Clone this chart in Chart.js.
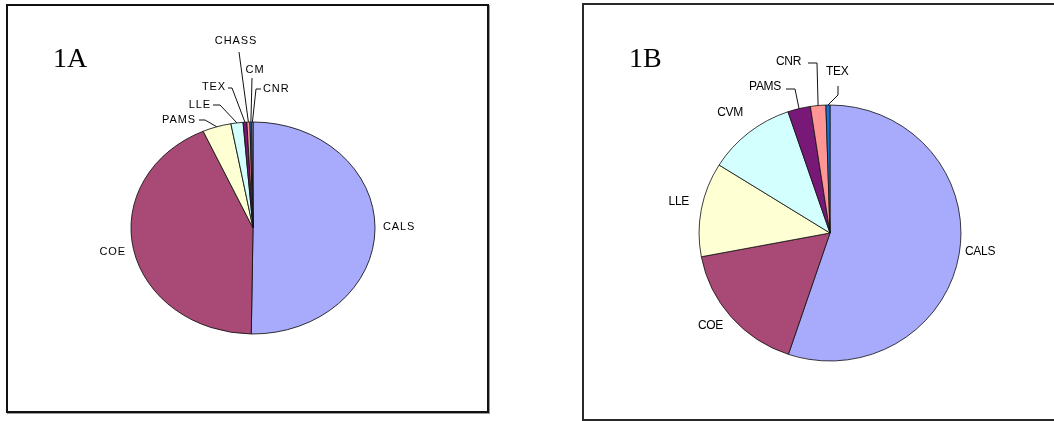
<!DOCTYPE html>
<html>
<head>
<meta charset="utf-8">
<script src="https://cdn.jsdelivr.net/npm/chart.js@4.4.0/dist/chart.umd.min.js"></script>
<style>
  html, body { margin: 0; padding: 0; background: #fff; }
  body { width: 1054px; height: 421px; position: relative; overflow: hidden; }
  .panel { position: absolute; box-sizing: border-box; border: 2px solid #111; }
  #boxA { left: 6px; top: 4px; width: 483px; height: 409px; box-shadow: 1px 1px 0 #999; }
  #boxB { left: 582px; top: 3px; width: 480px; height: 418px; border-color: #2a2a2a; }
  canvas { position: absolute; top: 0; }
  #chartA { left: 0; }
  #chartB { left: 527px; }
</style>
</head>
<body>
<div class="panel" id="boxA"></div>
<div class="panel" id="boxB"></div>
<canvas id="chartA" width="527" height="421"></canvas>
<canvas id="chartB" width="527" height="421"></canvas>
<script>
// Figure 1A
const categoriesA = ['CALS', 'COE', 'PAMS', 'LLE', 'TEX', 'CHASS', 'CM', 'CNR'];
const valuesA = [50.25, 43.1, 3.8, 1.6, 0.5, 0.4, 0.25, 0.15];

// Figure 1B
const categoriesB = ['CALS', 'COE', 'LLE', 'CVM', 'PAMS', 'CNR', 'TEX'];
const valuesB = [55.2, 16.9, 11.9, 10.9, 2.8, 1.9, 0.5];

// Excel-ish default series colours, in slice order
const sliceColors = ['#a8aafc', '#a94a76', '#ffffd4', '#d4ffff', '#781978', '#ff9595', '#1672d2', '#d0d0ff'];

// label placement relative to the pie centre (layout only)
const labelLayoutA = [
  { dx: 130, dy: -1, align: 'left' },
  { dx: -127, dy: 24, align: 'right' },
  { dx: -57, dy: -108, align: 'right', leader: [[-54, -108], [-48, -108]] },
  { dx: -42, dy: -123, align: 'right', leader: [[-40, -123], [-33, -123]] },
  { dx: -27, dy: -141, align: 'right', leader: [[-25, -140], [-21, -140]] },
  { dx: -17, dy: -187, align: 'center', leader: [[-14, -176]] },
  { dx: 2, dy: -158, align: 'center', leader: [[-1, -150]] },
  { dx: 10, dy: -139, align: 'left', leader: [[8, -139], [3, -139]] }
];

const labelLayoutB = [
  { dx: 135, dy: 19, align: 'left' },
  { dx: -107, dy: 93, align: 'right' },
  { dx: -141, dy: -31, align: 'right' },
  { dx: -87, dy: -120, align: 'right' },
  { dx: -49, dy: -146, align: 'right', leader: [[-44, -144], [-35, -144]] },
  { dx: -29, dy: -171, align: 'right', leader: [[-22, -170], [-13, -170]] },
  { dx: -4, dy: -161, align: 'left', leader: [[8, -147], [8, -138]] }
];

// squash the pie into the ellipse seen in the original
const stretchPlugin = {
  id: 'stretch',
  beforeDatasetsDraw(chart, args, opts) {
    const arc = chart.getDatasetMeta(0).data[0];
    const ctx = chart.ctx;
    ctx.save();
    ctx.translate(arc.x, arc.y);
    ctx.scale(opts.sx, 1);
    ctx.translate(-arc.x, -arc.y);
  },
  afterDatasetsDraw(chart) {
    chart.ctx.restore();
  }
};

const pieLabelsPlugin = {
  id: 'pieLabels',
  afterDraw(chart, args, opts) {
    const ctx = chart.ctx;
    const meta = chart.getDatasetMeta(0);
    const labels = chart.data.labels;
    const sx = chart.options.plugins.stretch.sx;
    ctx.save();
    ctx.font = opts.font;
    ctx.letterSpacing = opts.spacing;
    ctx.fillStyle = '#000';
    ctx.strokeStyle = '#111';
    ctx.lineWidth = 1;
    ctx.textBaseline = 'middle';
    meta.data.forEach((arc, i) => {
      const p = opts.layout[i];
      const { x, y, startAngle, endAngle, outerRadius } =
        arc.getProps(['x', 'y', 'startAngle', 'endAngle', 'outerRadius'], true);
      ctx.textAlign = p.align;
      ctx.fillText(labels[i], x + p.dx, y + p.dy);
      if (p.leader) {
        const mid = (startAngle + endAngle) / 2;
        ctx.beginPath();
        p.leader.forEach(([lx, ly], k) => {
          if (k) ctx.lineTo(x + lx, y + ly);
          else ctx.moveTo(x + lx, y + ly);
        });
        ctx.lineTo(x + sx * outerRadius * Math.cos(mid), y + outerRadius * Math.sin(mid));
        ctx.stroke();
      }
    });
    ctx.letterSpacing = '0px';
    ctx.font = '28px "Liberation Serif", "Times New Roman", serif';
    ctx.textAlign = 'left';
    ctx.textBaseline = 'alphabetic';
    ctx.fillText(opts.tag, opts.tagX, opts.tagY);
    ctx.restore();
  }
};

function makePie(id, categories, values, cfg) {
  return new Chart(document.getElementById(id), {
    type: 'pie',
    data: {
      labels: categories,
      datasets: [{
        data: values,
        backgroundColor: sliceColors.slice(0, values.length),
        borderColor: '#111',
        borderWidth: 0.8
      }]
    },
    options: {
      responsive: false,
      animation: false,
      events: [],
      radius: cfg.radius,
      layout: { padding: cfg.padding },
      plugins: {
        legend: { display: false },
        tooltip: { enabled: false },
        stretch: { sx: cfg.sx },
        pieLabels: {
          layout: cfg.labels,
          font: cfg.font,
          spacing: cfg.spacing,
          tag: cfg.tag,
          tagX: cfg.tagX,
          tagY: cfg.tagY
        }
      }
    },
    plugins: [stretchPlugin, pieLabelsPlugin]
  });
}

makePie('chartA', categoriesA, valuesA, {
  radius: 106,
  sx: 1.151,
  padding: { top: 122, bottom: 87, left: 103, right: 124 },
  labels: labelLayoutA,
  font: '11px "Liberation Sans", Arial, sans-serif',
  spacing: '0.9px',
  tag: '1A', tagX: 53, tagY: 67
});

makePie('chartB', categoriesB, valuesB, {
  radius: 128,
  sx: 1.023,
  padding: { top: 105, bottom: 60, left: 153, right: 74 },
  labels: labelLayoutB,
  font: '12px "Liberation Sans", Arial, sans-serif',
  spacing: '-0.3px',
  tag: '1B', tagX: 102, tagY: 67
});
</script>
</body>
</html>
